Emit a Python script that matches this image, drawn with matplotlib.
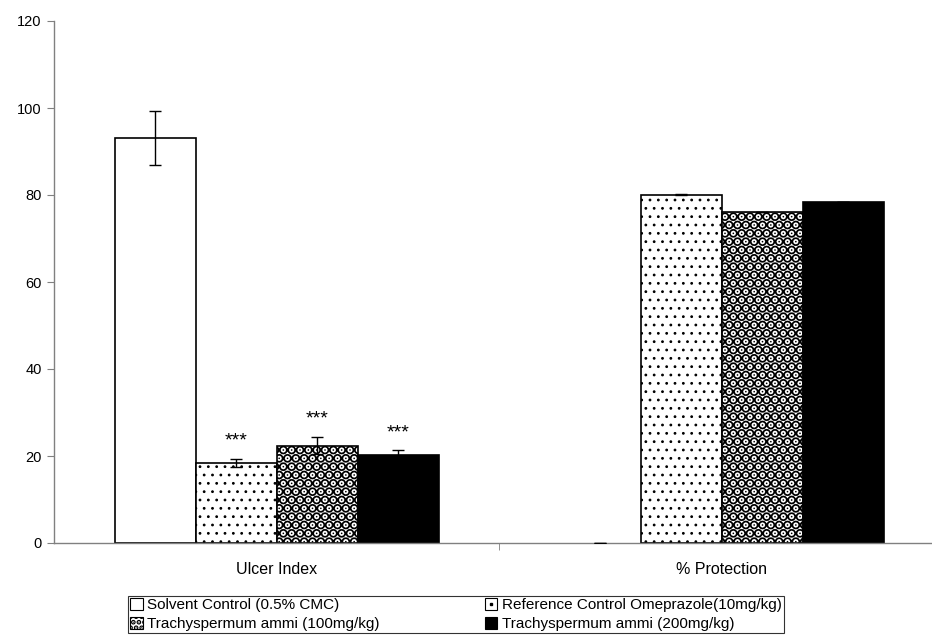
import matplotlib
matplotlib.use("Agg")
import matplotlib.pyplot as plt
import numpy as np
from matplotlib.patches import Patch, Rectangle
from matplotlib.lines import Line2D
from matplotlib.legend_handler import HandlerBase

plt.rcParams['font.family'] = ['Liberation Sans', 'DejaVu Sans']

categories = ["Ulcer Index", "% Protection"]
series = ["Solvent Control (0.5% CMC)", "Reference Control Omeprazole(10mg/kg)",
          "Trachyspermum ammi (100mg/kg)", "Trachyspermum ammi (200mg/kg)"]
values = [
    [93.1, 0.0],
    [18.4, 80.1],
    [22.4, 76.1],
    [20.2, 78.4],
]
errors = [
    [6.2, 0.0],
    [1.0, 0.1],
    [2.0, 0.1],
    [1.2, 0.1],
]
stars = [["", ""], ["***", ""], ["***", ""], ["***", ""]]
yticks = [0, 20, 40, 60, 80, 100, 120]

fig = plt.figure(figsize=(9.32, 6.42), dpi=100)
ax = fig.add_axes([54/932, 1-543/642, 1-54/932, (543-21)/642])

w = 0.182
x = np.arange(len(categories))
styles = [
    dict(facecolor="white", hatch=None, hlw=1.0, legend="plain"),
    dict(facecolor="white", hatch="..", hlw=0.8, legend="dot"),
    dict(facecolor="white", hatch="..", hlw=5.0, legend="dense"),
    dict(facecolor="black", hatch=None, hlw=1.0, legend="plain"),
]
for i, (vals, errs, st) in enumerate(zip(values, errors, styles)):
    pos = x + (i - 1.5) * w
    for p, v, e in zip(pos, vals, errs):
        with plt.rc_context({'hatch.linewidth': st['hlw']}):
            ax.bar(p, v, width=w, facecolor=st['facecolor'], edgecolor="black",
                   hatch=st['hatch'], linewidth=0 if v == 0 else 1.2, zorder=2)
        ax.errorbar(p, v, yerr=e, fmt="none", ecolor="black", elinewidth=1,
                    capsize=4, capthick=1, zorder=3)
    for p, v, e, s in zip(pos, vals, errs, stars[i]):
        if s:
            ax.text(p, v + e + 4.0, s, ha="center", va="center", fontsize=14)

ax.set_xlim(-0.5, (932-277)/445)
ax.set_ylim(0, 120)
ax.set_yticks(yticks)
ax.set_xticks(x)
ax.set_xticklabels(categories, fontsize=11.5)
ax.set_xticks([0.5], minor=True)
ax.tick_params(axis='x', which='major', length=0, pad=14)
ax.tick_params(axis='x', which='minor', length=5, color="#808080")
ax.tick_params(axis='y', length=5, color="#808080", labelsize=10.5, pad=4)
for s in ["top", "right"]:
    ax.spines[s].set_visible(False)
for s in ["left", "bottom"]:
    ax.spines[s].set_color("#808080")
    ax.spines[s].set_linewidth(1)


class HatchHandler(HandlerBase):
    def __init__(self, st):
        super().__init__()
        self.st = st

    def create_artists(self, legend, orig_handle, xdescent, ydescent,
                       width, height, fontsize, trans):
        arts = []
        hatch = "..." if self.st['legend'] == "dense" else None
        with plt.rc_context({'hatch.linewidth': 2.5}):
            r = Rectangle((-xdescent, -ydescent), width, height,
                          facecolor=self.st['facecolor'], edgecolor="black",
                          hatch=hatch, linewidth=0.8, transform=trans)
        arts.append(r)
        if self.st['legend'] == "dot":
            d = Line2D([-xdescent + width / 2], [-ydescent + height / 2],
                       marker="s", markersize=1.6, color="black",
                       linestyle="none", transform=trans)
            arts.append(d)
        return arts


handles = []
hmap = {}
for lab, st in zip(series, styles):
    h = Patch(facecolor=st['facecolor'], edgecolor="black", label=lab)
    handles.append(h)
    hmap[h] = HatchHandler(st)
order = [0, 2, 1, 3]
leg = fig.legend(handles=[handles[k] for k in order], ncol=2, loc="upper left",
                 bbox_to_anchor=(128/932, 1-596/642), fontsize=11,
                 handler_map=hmap,
                 frameon=True, fancybox=False, edgecolor="black",
                 handlelength=0.8, handleheight=0.8, handletextpad=0.3,
                 columnspacing=6.9, borderpad=0.15, labelspacing=0.3,
                 borderaxespad=0)
leg.get_frame().set_linewidth(0.8)

fig.savefig("out.png", dpi=100)
